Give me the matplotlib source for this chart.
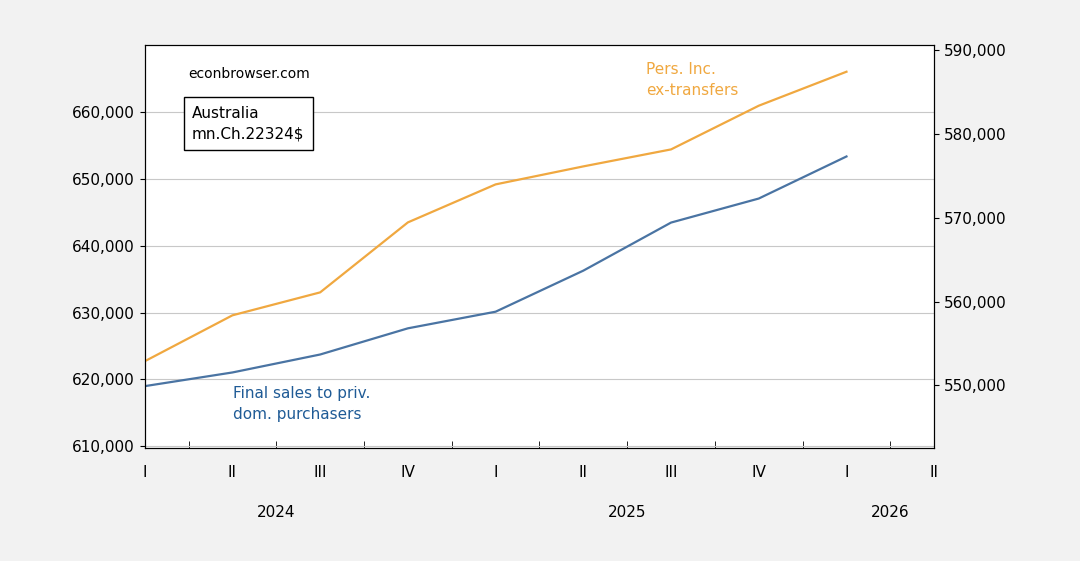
import matplotlib.pyplot as plt
import matplotlib.ticker as mt

quarters = list(range(9))
final_sales = [619000, 621050, 623740, 627660, 630150, 636300, 643500, 647100, 653400]
pers_inc = [552870, 558360, 561100, 569460, 574000, 576150, 578180, 583400, 587460]
qlabels = ["I", "II", "III", "IV", "I", "II", "III", "IV", "I", "II"]
years = [("2024", 1.5), ("2025", 5.5), ("2026", 8.5)]

fig = plt.figure(figsize=(10.8, 5.61), dpi=100, facecolor="#f2f2f2")
ax = fig.add_axes([0.134, 0.201, 0.731, 0.718])
ax.set_facecolor("white")
ax.plot(quarters, final_sales, color="#4a74a3", lw=1.6)
ax.set_xlim(0, 9)
ax.set_ylim(609700, 670030)
ax.set_yticks(range(610000, 670000, 10000))
ax.yaxis.set_major_formatter(mt.FuncFormatter(lambda v, p: f"{int(v):,}"))
ax.grid(axis="y", color="#c8c8c8", lw=0.8)
ax.set_xticks(range(10))
ax.set_xticklabels(qlabels)
ax.set_xticks([i + 0.5 for i in range(9)], minor=True)
ax.tick_params(axis="x", which="major", length=0, pad=12, labelsize=11)
ax.tick_params(axis="x", which="minor", length=5, direction="in")
ax.tick_params(axis="y", labelsize=11)
for lbl, xp in years:
    ax.text(xp, -0.16, lbl, transform=ax.get_xaxis_transform(), ha="center", va="center", fontsize=11)

ax2 = ax.twinx()
ax2.plot(quarters, pers_inc, color="#f0a840", lw=1.6)
ax2.set_ylim(542480, 590600)
ax2.set_yticks(range(550000, 600000, 10000))
ax2.yaxis.set_major_formatter(mt.FuncFormatter(lambda v, p: f"{int(v):,}"))
ax2.tick_params(axis="y", labelsize=11)

ax.text(0.055, 0.93, "econbrowser.com", transform=ax.transAxes, fontsize=10, va="center")
ax.text(0.06, 0.85, "Australia\nmn.Ch.22324$", transform=ax.transAxes, fontsize=11, va="top",
        linespacing=1.5, bbox=dict(facecolor="white", edgecolor="black", pad=6))
ax.text(0.635, 0.915, "Pers. Inc.\nex-transfers", transform=ax.transAxes, fontsize=11,
        color="#f0a840", va="center", linespacing=1.5)
ax.text(0.112, 0.11, "Final sales to priv.\ndom. purchasers", transform=ax.transAxes, fontsize=11,
        color="#1f5b96", va="center", linespacing=1.5)

fig.savefig("out.png", dpi=100, facecolor=fig.get_facecolor())
